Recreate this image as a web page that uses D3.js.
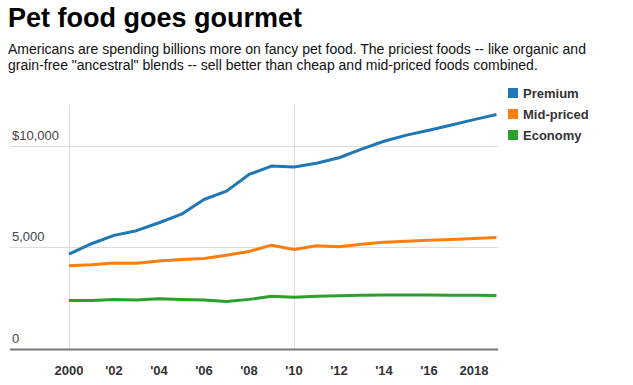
<!DOCTYPE html>
<html>
<head>
<meta charset="utf-8">
<script src="https://cdn.jsdelivr.net/npm/d3@7"></script>
<style>
  body { margin: 0; background: #fff; }
  svg text { font-family: Arial, "Liberation Sans", sans-serif; }
</style>
</head>
<body>
<div id="app"></div>
<script>
const WIDTH = 633;
const HEIGHT = 385;

const years = d3.range(2000, 2020);
const premium = [4670, 5180, 5590, 5820, 6210, 6630, 7350, 7760, 8580, 8990, 8940, 9130, 9400, 9820, 10210, 10510, 10750, 11010, 11270, 11520];
const midPriced = [4100, 4150, 4230, 4220, 4330, 4410, 4460, 4620, 4800, 5110, 4900, 5080, 5030, 5150, 5250, 5300, 5350, 5390, 5440, 5490];
const economy = [2390, 2400, 2440, 2420, 2480, 2440, 2420, 2350, 2450, 2600, 2550, 2600, 2630, 2650, 2660, 2660, 2660, 2650, 2650, 2640];

const seriesNames = ["Premium", "Mid-priced", "Economy"];
const seriesColors = ["#1f77b4", "#ff7f0e", "#2ca02c"];
const yTicks = [0, 5000, 10000];
const xTicks = [2000, 2002, 2004, 2006, 2008, 2010, 2012, 2014, 2016, 2018];

const series = [premium, midPriced, economy];

const svg = d3.select("#app")
  .append("svg")
  .attr("width", WIDTH)
  .attr("height", HEIGHT);

// header
svg.append("text")
  .attr("x", 8)
  .attr("y", 27)
  .style("font-weight", "bold")
  .style("font-size", "27px")
  .attr("fill", "#000")
  .text("Pet food goes gourmet");

const subtitle = [
  "Americans are spending billions more on fancy pet food. The priciest foods -- like organic and",
  "grain-free \"ancestral\" blends -- sell better than cheap and mid-priced foods combined.",
];
svg.selectAll("text.sub")
  .data(subtitle)
  .join("text")
  .attr("class", "sub")
  .attr("x", 8)
  .attr("y", (d, i) => 54 + i * 16)
  .style("font-size", "14px")
  .attr("fill", "#111")
  .text((d) => d);

const x = d3.scaleLinear().domain([2000, 2019]).range([69, 496.5]);
const y = d3.scaleLinear().domain([0, 10000]).range([349.3, 145.5]);

// horizontal grid
svg.append("g")
  .selectAll("line")
  .data(yTicks.filter((d) => d > 0))
  .join("line")
  .attr("x1", 10)
  .attr("x2", 498)
  .attr("y1", (d) => Math.round(y(d)) + 0.5)
  .attr("y2", (d) => Math.round(y(d)) + 0.5)
  .attr("stroke", "#ddd")
  .attr("stroke-width", 1);

// vertical grid at decades
svg.append("g")
  .selectAll("line")
  .data([2000, 2010])
  .join("line")
  .attr("x1", (d) => Math.round(x(d)) + 0.5)
  .attr("x2", (d) => Math.round(x(d)) + 0.5)
  .attr("y1", 105)
  .attr("y2", 349)
  .attr("stroke", "#ddd")
  .attr("stroke-width", 1);

// y tick labels
svg.append("g")
  .selectAll("text")
  .data(yTicks)
  .join("text")
  .attr("x", 12)
  .attr("y", (d) => y(d) - 6)
  .style("font-size", "13px")
  .attr("fill", "#444")
  .text((d) => (d === 10000 ? "$" + d3.format(",")(d) : d3.format(",")(d)));

// baseline
svg.append("line")
  .attr("x1", 10)
  .attr("x2", 498)
  .attr("y1", 349.5)
  .attr("y2", 349.5)
  .attr("stroke", "#777")
  .attr("stroke-width", 2);

// x tick labels
svg.append("g")
  .selectAll("text")
  .data(xTicks)
  .join("text")
  .attr("x", (d) => x(d))
  .attr("y", 375)
  .attr("text-anchor", "middle")
  .style("font-size", "13px")
  .style("font-weight", "bold")
  .attr("fill", "#333")
  .text((d) => (d === 2000 || d === 2018 ? d : "'" + String(d).slice(2)));

// lines
const line = d3.line()
  .x((d, i) => x(years[i]))
  .y((d) => y(d));

svg.append("g")
  .selectAll("path")
  .data(series)
  .join("path")
  .attr("fill", "none")
  .attr("stroke", (d, i) => seriesColors[i])
  .attr("stroke-width", 3)
  .attr("stroke-linejoin", "round")
  .attr("d", line);

// legend
const legend = svg.append("g")
  .selectAll("g")
  .data(seriesNames)
  .join("g")
  .attr("transform", (d, i) => `translate(508,${88 + i * 21})`);

legend.append("rect")
  .attr("width", 10)
  .attr("height", 10)
  .attr("fill", (d, i) => seriesColors[i]);

legend.append("text")
  .attr("x", 15)
  .attr("y", 10)
  .style("font-size", "13px")
  .style("font-weight", "bold")
  .attr("fill", "#333")
  .text((d) => d);
</script>
</body>
</html>
